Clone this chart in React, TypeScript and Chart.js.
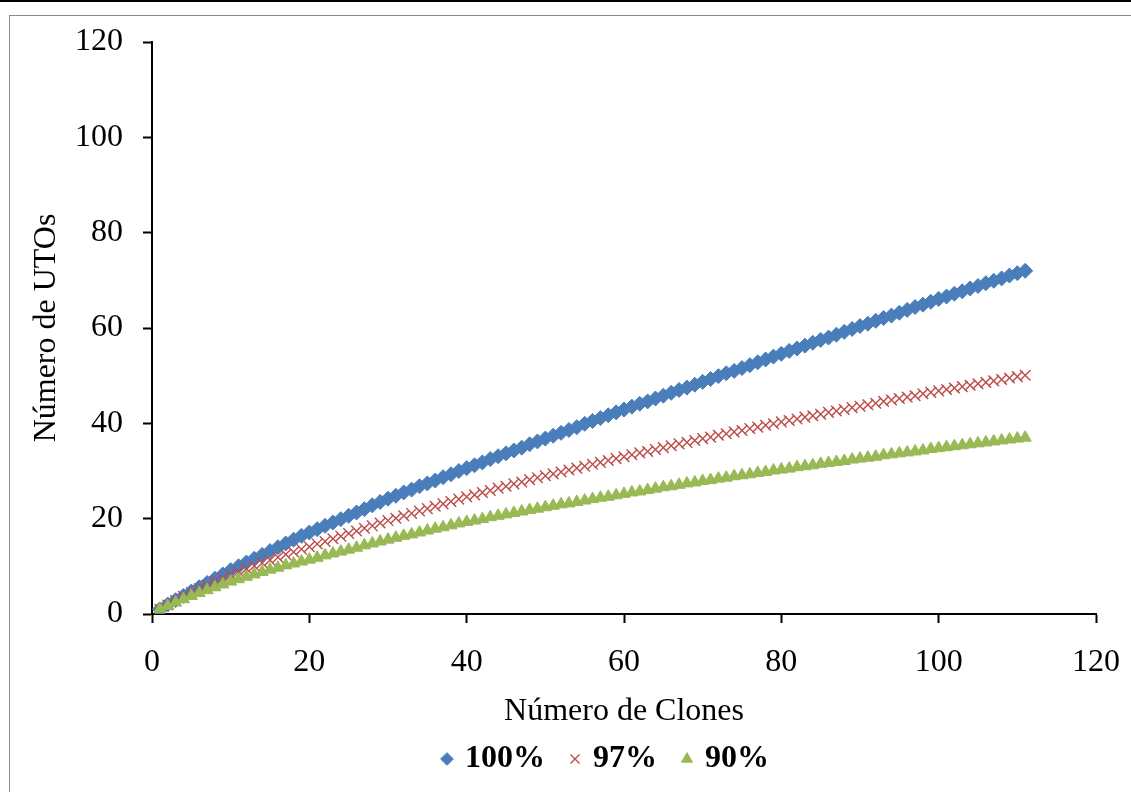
import React, { useEffect, useRef } from "react";
import { Chart, registerables } from "chart.js";

Chart.register(...registerables);

const clones = [
  1, 2, 3, 4, 5, 6, 7, 8, 9, 10,
  11, 12, 13, 14, 15, 16, 17, 18, 19, 20,
  21, 22, 23, 24, 25, 26, 27, 28, 29, 30,
  31, 32, 33, 34, 35, 36, 37, 38, 39, 40,
  41, 42, 43, 44, 45, 46, 47, 48, 49, 50,
  51, 52, 53, 54, 55, 56, 57, 58, 59, 60,
  61, 62, 63, 64, 65, 66, 67, 68, 69, 70,
  71, 72, 73, 74, 75, 76, 77, 78, 79, 80,
  81, 82, 83, 84, 85, 86, 87, 88, 89, 90,
  91, 92, 93, 94, 95, 96, 97, 98, 99, 100,
  101, 102, 103, 104, 105, 106, 107, 108, 109, 110, 111,
];

const uto100 = [
  1.0, 2.0, 2.9, 3.8, 4.7, 5.6, 6.5, 7.4, 8.3, 9.2,
  10.0, 10.8, 11.6, 12.4, 13.2, 14.0, 14.8, 15.6, 16.4, 17.1,
  17.8, 18.5, 19.2, 19.9, 20.6, 21.3, 22.0, 22.8, 23.5, 24.2,
  24.8, 25.5, 26.1, 26.8, 27.4, 28.0, 28.7, 29.3, 30.0, 30.6,
  31.2, 31.8, 32.5, 33.1, 33.7, 34.3, 34.9, 35.6, 36.2, 36.8,
  37.4, 38.0, 38.6, 39.2, 39.9, 40.5, 41.1, 41.7, 42.3, 42.9,
  43.5, 44.1, 44.6, 45.2, 45.8, 46.4, 47.0, 47.5, 48.1, 48.7,
  49.3, 49.9, 50.5, 51.0, 51.6, 52.2, 52.8, 53.4, 54.0, 54.6,
  55.2, 55.7, 56.3, 56.9, 57.5, 58.0, 58.6, 59.2, 59.8, 60.4,
  60.9, 61.5, 62.1, 62.6, 63.2, 63.8, 64.4, 64.9, 65.5, 66.1,
  66.6, 67.2, 67.7, 68.3, 68.8, 69.4, 69.9, 70.4, 71.0, 71.5, 72.0,
];

const uto97 = [
  1.0, 1.9, 2.8, 3.7, 4.5, 5.3, 6.0, 6.8, 7.5, 8.2,
  8.9, 9.5, 10.1, 10.7, 11.3, 11.9, 12.5, 13.0, 13.6, 14.1,
  14.7, 15.2, 15.8, 16.3, 16.9, 17.4, 18.0, 18.5, 19.1, 19.6,
  20.1, 20.6, 21.1, 21.6, 22.1, 22.6, 23.1, 23.6, 24.1, 24.6,
  25.0, 25.5, 25.9, 26.4, 26.8, 27.3, 27.7, 28.2, 28.6, 29.0,
  29.4, 29.8, 30.2, 30.6, 31.0, 31.4, 31.8, 32.2, 32.6, 33.0,
  33.4, 33.8, 34.1, 34.5, 34.9, 35.3, 35.7, 36.0, 36.4, 36.8,
  37.1, 37.5, 37.8, 38.2, 38.5, 38.9, 39.2, 39.6, 39.9, 40.3,
  40.6, 40.9, 41.3, 41.6, 41.9, 42.3, 42.6, 42.9, 43.3, 43.6,
  43.9, 44.2, 44.6, 44.9, 45.2, 45.5, 45.8, 46.2, 46.5, 46.8,
  47.1, 47.4, 47.7, 48.0, 48.3, 48.6, 48.9, 49.2, 49.5, 49.8, 50.1,
];

const uto90 = [
  1.0, 1.7, 2.4, 3.1, 3.8, 4.4, 5.0, 5.6, 6.2, 6.8,
  7.3, 7.8, 8.3, 8.8, 9.3, 9.7, 10.2, 10.6, 11.0, 11.4,
  11.8, 12.3, 12.7, 13.1, 13.5, 13.9, 14.4, 14.8, 15.2, 15.6,
  16.0, 16.4, 16.7, 17.1, 17.5, 17.9, 18.2, 18.6, 19.0, 19.3,
  19.6, 19.9, 20.3, 20.6, 20.9, 21.2, 21.5, 21.8, 22.1, 22.4,
  22.7, 23.0, 23.2, 23.5, 23.8, 24.1, 24.4, 24.6, 24.9, 25.2,
  25.5, 25.7, 26.0, 26.3, 26.6, 26.8, 27.1, 27.4, 27.6, 27.9,
  28.1, 28.4, 28.6, 28.9, 29.1, 29.3, 29.6, 29.8, 30.1, 30.3,
  30.5, 30.8, 31.0, 31.2, 31.5, 31.7, 31.9, 32.1, 32.4, 32.6,
  32.8, 33.0, 33.3, 33.5, 33.7, 33.9, 34.1, 34.3, 34.6, 34.8,
  35.0, 35.2, 35.4, 35.6, 35.8, 36.0, 36.2, 36.4, 36.6, 36.8, 37.0,
];

const seriesNames = ["100%", "97%", "90%"];
const xTitle = "Número de Clones";
const yTitle = "Número de UTOs";

const FONT = '"Liberation Serif", "Times New Roman", serif';

function toPoints(values: number[]) {
  return values.map((v, i) => ({ x: clones[i], y: v }));
}

const legendShift = {
  id: "legendShift",
  afterLayout(chart: any) {
    if (chart.legend) {
      chart.legend.left = 118;
    }
  },
};

export default function App() {
  const canvasRef = useRef<HTMLCanvasElement | null>(null);

  useEffect(() => {
    const canvas = canvasRef.current;
    if (!canvas) return;
    const chart = new Chart(canvas, {
      type: "scatter",
      plugins: [legendShift],
      data: {
        datasets: [
          {
            label: seriesNames[0],
            data: toPoints(uto100),
            pointStyle: "rectRot",
            pointRadius: 7.5,
            backgroundColor: "#4A7EBB",
            borderColor: "#4A7EBB",
            borderWidth: 1,
            showLine: false,
            order: 2,
          },
          {
            label: seriesNames[1],
            data: toPoints(uto97),
            pointStyle: "crossRot",
            pointRadius: 7.5,
            backgroundColor: "#BE4B48",
            borderColor: "#BE4B48",
            borderWidth: 1.4,
            showLine: false,
            order: 1,
          },
          {
            label: seriesNames[2],
            data: toPoints(uto90),
            pointStyle: "triangle",
            pointRadius: 7,
            backgroundColor: "#98B954",
            borderColor: "#98B954",
            borderWidth: 1,
            showLine: false,
            order: 0,
          },
        ],
      },
      options: {
        animation: false,
        responsive: false,
        events: [],
        layout: { padding: { left: 0, right: 35, top: 42, bottom: 7 } },
        scales: {
          x: {
            type: "linear",
            min: 0,
            max: 120,
            afterFit: (s: any) => {
              s.height = 101;
              s.paddingLeft = 0;
              s.paddingRight = 0;
            },
            ticks: {
              stepSize: 20,
              color: "#000",
              padding: 20,
              font: { family: FONT, size: 32 },
            },
            grid: {
              drawOnChartArea: false,
              drawTicks: true,
              tickLength: 9,
              tickColor: "#000",
              tickWidth: 2,
            },
            border: { display: true, color: "#000", width: 2 },
            title: {
              display: true,
              text: xTitle,
              color: "#000",
              font: { family: FONT, size: 32 },
              padding: { top: 0, bottom: -16 },
            },
          },
          y: {
            type: "linear",
            min: 0,
            max: 120,
            afterFit: (s: any) => {
              s.width = 152;
            },
            ticks: {
              stepSize: 20,
              color: "#000",
              padding: 20,
              font: { family: FONT, size: 32 },
            },
            grid: {
              drawOnChartArea: false,
              drawTicks: true,
              tickLength: 9,
              tickColor: "#000",
              tickWidth: 2,
            },
            border: { display: true, color: "#000", width: 2 },
            title: {
              display: true,
              text: yTitle,
              color: "#000",
              font: { family: FONT, size: 32 },
              padding: { top: 27, bottom: 0 },
            },
          },
        },
        plugins: {
          tooltip: { enabled: false },
          legend: {
            display: true,
            position: "bottom",
            labels: {
              usePointStyle: true,
              boxWidth: 4,
              boxHeight: 9,
              padding: 28,
              color: "#000",
              font: { family: FONT, size: 32, weight: "bold" },
              sort: (a: any, b: any) => a.datasetIndex - b.datasetIndex,
            },
          },
        },
      },
    });
    return () => chart.destroy();
  }, []);

  return (
    <div
      style={{
        position: "absolute",
        left: 0,
        top: 0,
        width: 1131,
        height: 792,
        overflow: "hidden",
        background: "#fff",
      }}
    >
      <div
        style={{
          position: "absolute",
          left: 0,
          top: 0,
          width: 1131,
          height: 2,
          background: "#000",
        }}
      />
      <div
        style={{
          position: "absolute",
          left: 9,
          top: 15,
          width: 1300,
          height: 900,
          border: "1px solid #8a8a8a",
          boxSizing: "border-box",
        }}
      />
      <canvas
        ref={canvasRef}
        width={1131}
        height={792}
        style={{ position: "absolute", left: 0, top: 0, width: 1131, height: 792 }}
      />
    </div>
  );
}
